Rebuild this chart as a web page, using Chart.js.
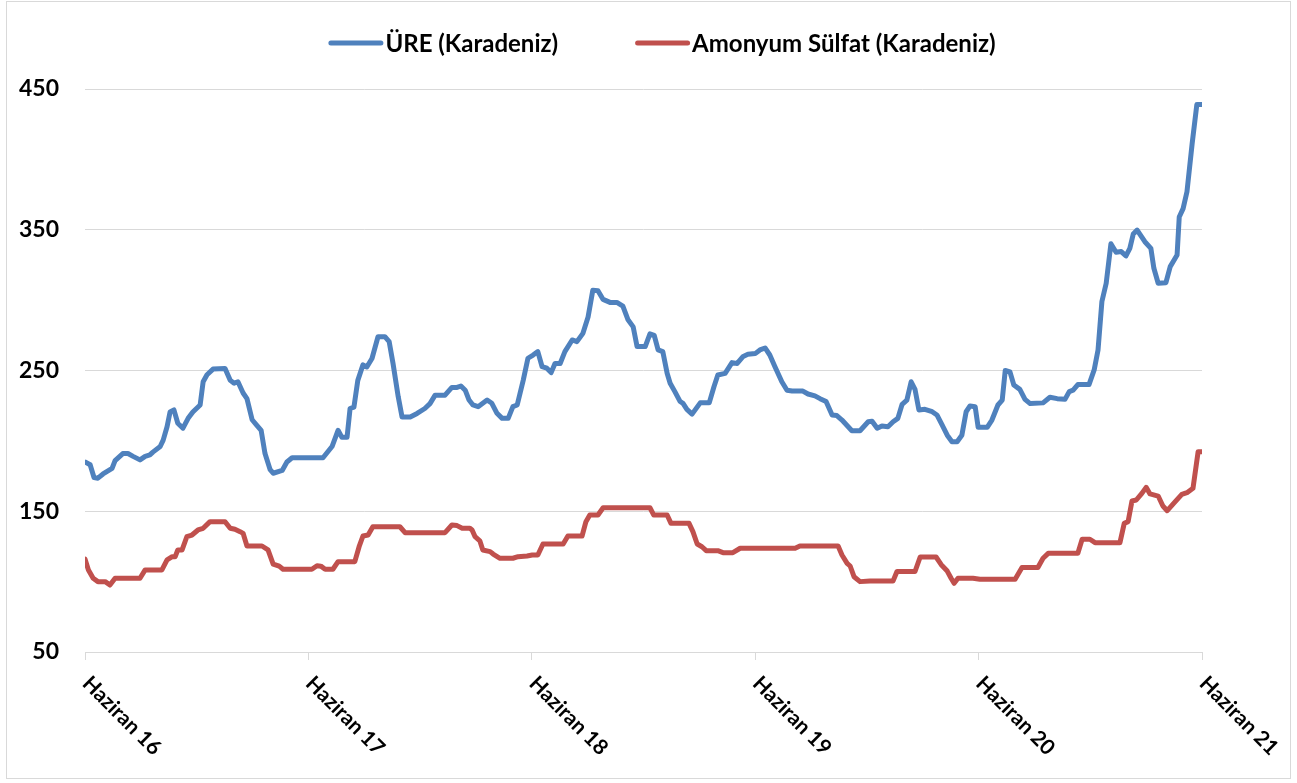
<!DOCTYPE html>
<html>
<head>
<meta charset="utf-8">
<script src="https://cdn.jsdelivr.net/npm/chart.js@4/dist/chart.umd.min.js"></script>
<style>
html,body{margin:0;padding:0;background:#fff;}
#wrap{width:1297px;height:783px;position:relative;}
</style>
</head>
<body>
<div id="wrap"><canvas id="c" width="1297" height="783"></canvas></div>
<script>
// ---- data (x = week index since June 2016, y = price) ----
const seriesNames = ['ÜRE (Karadeniz)', 'Amonyum Sülfat (Karadeniz)'];
const xTickLabels = ['Haziran 16', 'Haziran 17', 'Haziran 18', 'Haziran 19', 'Haziran 20', 'Haziran 21'];
const xTickWeeks = [0, 52, 104, 156, 208, 260];
const yTicks = [50, 150, 250, 350, 450];

const ureSeries = [
  [0,185],[1.2,183],[2.1,174],[3.0,173.5],[4.2,176.5],[6.3,180.5],[7.0,186],[8.8,191],[10.0,191],[11.2,189],
  [12.8,186.5],[14.0,189],[15.1,190],[15.8,192],[17.5,196],[18.2,200.5],[19.1,210],[19.8,220.5],[20.7,222],[21.6,212.5],
  [22.8,209],[24.0,216],[25.1,220.5],[26.8,225.5],[27.5,242],[28.4,247],[29.8,251],[32.6,251.5],[33.8,243],[34.7,241],
  [35.6,242],[36.8,234],[37.7,230],[38.9,215],[40.0,211],[41.0,207.5],[41.9,191],[43.1,179.5],[43.8,177],[45.9,179],
  [47.0,185],[48.2,188],[55.4,188],[57.5,196],[58.9,207.5],[59.8,202.5],[61.0,202.5],[61.7,223],[62.6,224],[63.5,243],
  [64.7,254],[65.6,252.5],[66.8,258.5],[68.2,274],[69.8,274],[70.8,270.5],[71.7,255],[72.9,231.5],[73.8,217],[75.7,217],
  [77.3,219.5],[79.1,223],[80.3,226.5],[81.5,232.5],[83.8,232.5],[85.4,238],[86.6,238],[87.5,239],[88.5,236],[89.4,229],
  [90.3,225.5],[91.5,224.3],[93.6,229],[94.7,226.7],[95.9,219.6],[97.1,216],[98.5,216],[99.6,224.3],[100.6,225.5],[102.0,243],
  [103.1,258.7],[104.3,261],[105.4,263.4],[106.4,252.7],[107.5,251.6],[108.5,248.5],[109.4,255],[110.6,255],[111.7,263.4],[113.4,271.7],
  [114.5,270.5],[115.9,276.4],[117.1,288],[118.2,307],[119.4,306.7],[120.6,300.5],[122.2,298.4],[123.8,298.4],[125.2,295.8],[126.4,286],
  [127.6,281],[128.5,267],[130.4,267],[131.5,276],[132.5,275],[133.4,264.6],[134.5,263.4],[135.5,248],[136.2,241],[137.3,235],
  [138.5,228],[139.2,226.7],[140.1,222.4],[141.3,219],[143.2,227],[145.3,227],[146.4,238.5],[147.3,246.8],[149.0,248],[150.6,255.6],
  [151.8,255],[153.2,260],[154.3,261.5],[156.0,262],[157.1,264.6],[158.3,266],[159.4,261],[160.6,252.7],[162.2,242],[163.4,236],
  [164.6,235.4],[167.1,235.4],[168.3,233.3],[169.9,232],[171.1,230],[172.5,228],[173.9,218.4],[175.0,218],[176.2,214.8],[178.5,207.2],
  [180.4,207.2],[182.3,213.6],[183.2,214],[184.4,209],[185.5,210.6],[186.9,210],[188.1,213.6],[189.2,216],[190.2,226],[191.3,229],
  [192.3,242],[193.2,236.6],[194.1,222],[195.5,222.4],[197.2,220.7],[198.3,218.4],[199.5,211.3],[200.7,204],[201.8,199.4],[203.0,199.4],
  [204.1,204],[205.1,220.7],[206.0,224.8],[207.2,224.3],[207.9,209.6],[210.0,209.6],[211.1,214.8],[212.5,225.5],[213.5,229],[214.2,250],
  [215.3,249],[216.2,239.7],[217.6,236.6],[218.8,229.5],[220.0,226.5],[223.0,227],[224.6,231],[226.3,230],[228.1,229.5],[229.1,235],
  [230.0,236],[231.1,240],[233.7,240],[234.9,250.4],[235.8,264.6],[236.7,299],[237.7,312],[238.8,340],[240.0,334],[241.2,334.5],
  [242.3,331.4],[243.2,336.8],[244.0,347],[244.9,349.8],[246.7,341.5],[248.1,336.8],[248.8,322.6],[249.8,312],[251.6,312.4],[252.6,323.8],
  [254.2,332],[254.7,359],[255.6,365],[256.5,377],[257.7,411],[258.8,439],[260.0,439]
];

const amonyumSeries = [
  [0,116],[0.8,108.3],[1.9,102.4],[3.0,100],[4.7,100],[5.8,97.6],[7.0,102.4],[12.8,102.4],[14.0,108.3],[17.9,108.3],
  [19.1,115.4],[20.3,117.7],[21.0,117.7],[21.6,122.5],[22.6,122.5],[23.7,131.9],[24.9,133.1],[26.3,136.7],[27.5,137.9],[29.1,142.6],
  [32.6,142.6],[33.8,137.9],[34.9,137.2],[36.1,135.5],[36.8,134.3],[37.7,125.3],[41.2,125.3],[42.6,122.5],[43.8,112.5],[45.2,111],
  [46.1,108.8],[52.8,108.8],[54.0,111.3],[54.9,111],[55.9,108.8],[57.7,108.8],[58.9,114.2],[62.8,114.2],[63.8,124.8],[64.7,132.4],
  [65.9,133.1],[67.0,139],[73.3,139],[74.5,134.8],[83.8,134.8],[85.4,140.2],[86.6,139.8],[87.8,137.9],[89.6,137.9],[90.1,136.7],
  [90.8,131.9],[91.9,129],[92.6,122.5],[94.3,121.3],[95.0,119.6],[96.6,116.6],[99.6,116.6],[100.8,117.7],[102.9,118.2],[104.1,118.9],
  [105.4,118.9],[106.6,126.7],[111.3,126.7],[112.4,132.4],[115.7,132.4],[116.6,142.6],[117.5,147.3],[119.4,147.3],[120.6,152.5],[131.5,152.5],
  [132.4,147.3],[135.5,147.3],[136.4,141.4],[140.6,141.4],[141.5,135.5],[142.5,126.7],[143.6,124.8],[144.6,122],[147.3,122],[148.5,120.6],
  [150.8,120.6],[152.5,123.7],[165.3,123.7],[166.4,125.3],[175.3,125.3],[176.2,118.9],[177.4,113],[178.1,111.1],[179.0,103.5],[180.4,100],
  [182.7,100.5],[188.1,100.5],[189.0,107.2],[193.2,107.2],[194.4,117.5],[198.1,117.5],[199.3,112],[200.7,107.5],[201.6,102.4],[202.3,98.8],
  [203.2,102.4],[206.7,102.4],[208.3,101.7],[216.5,101.7],[218.1,110],[221.8,110],[223.0,116.6],[224.2,120.1],[231.1,120.1],[232.1,130.1],
  [233.9,130.1],[235.1,127.7],[240.9,127.7],[241.9,141.4],[242.8,142.6],[243.7,157.3],[244.7,158],[246.0,162.7],[247.0,167],[247.9,162.3],
  [249.8,160.8],[250.9,153.7],[251.9,150.4],[253.3,155.2],[255.3,162],[256.5,163.2],[257.9,166.3],[259.1,192.3],[260.0,192.3]
];

// ---- styles ----
const COLORS = ['#4F81BD', '#C0504D'];
const FONT = 'Lato, "Open Sans", "DejaVu Sans", sans-serif';
const GRID = '#d9d9d9';

const toPoints = s => s.map(p => ({x: p[0], y: p[1]}));

const decor = {
  id: 'decor',
  beforeDraw(chart) {
    const ctx = chart.ctx;
    ctx.save();
    ctx.fillStyle = '#fff';
    ctx.fillRect(0, 0, chart.width, chart.height);
    ctx.strokeStyle = GRID;
    ctx.lineWidth = 1;
    ctx.strokeRect(6.5, 1.5, 1284, 777);
    ctx.restore();
  },
  afterDraw(chart) {
    const ctx = chart.ctx;
    const xs = chart.scales.x;
    const bottom = chart.chartArea.bottom;
    ctx.save();
    // rotated x labels
    ctx.font = 'bold 21px ' + FONT;
    ctx.fillStyle = '#000';
    ctx.textAlign = 'left';
    ctx.textBaseline = 'middle';
    xTickLabels.forEach((t, i) => {
      const px = xs.getPixelForValue(xTickWeeks[i]);
      ctx.save();
      ctx.translate(px + 1, bottom + 28);
      ctx.rotate(Math.PI / 4);
      ctx.fillText(t, 0, 0);
      ctx.restore();
    });
    // legend
    ctx.font = 'bold 24px ' + FONT;
    const lineLen = 55, gapText = 2, gapItem = 77;
    const widths = seriesNames.map(n => ctx.measureText(n).width);
    const total = widths.reduce((a, w) => a + lineLen + gapText + w, 0) + gapItem;
    let x = 662 - total / 2;
    const y = 43;
    seriesNames.forEach((n, i) => {
      ctx.strokeStyle = COLORS[i];
      ctx.lineWidth = 5;
      ctx.lineCap = 'round';
      ctx.beginPath();
      ctx.moveTo(x + 2.5, y);
      ctx.lineTo(x + lineLen - 2.5, y);
      ctx.stroke();
      ctx.fillStyle = '#000';
      ctx.textBaseline = 'middle';
      ctx.fillText(n, x + lineLen + gapText, y + 1);
      x += lineLen + gapText + widths[i] + gapItem;
    });
    ctx.restore();
  }
};

new Chart(document.getElementById('c'), {
  type: 'line',
  data: {
    datasets: [
      {label: seriesNames[0], data: toPoints(ureSeries), borderColor: COLORS[0], backgroundColor: COLORS[0],
       borderWidth: 5, pointRadius: 0, tension: 0, borderJoinStyle: 'round', borderCapStyle: 'round'},
      {label: seriesNames[1], data: toPoints(amonyumSeries), borderColor: COLORS[1], backgroundColor: COLORS[1],
       borderWidth: 5, pointRadius: 0, tension: 0, borderJoinStyle: 'round', borderCapStyle: 'round'}
    ]
  },
  options: {
    responsive: false,
    animation: false,
    devicePixelRatio: 1,
    layout: {padding: {left: 6, right: 95, top: 89, bottom: 0}},
    plugins: {legend: {display: false}, tooltip: {enabled: false}},
    scales: {
      x: {
        type: 'linear', min: 0, max: 260,
        afterBuildTicks: s => { s.ticks = xTickWeeks.map(v => ({value: v})); },
        afterFit: s => { s.height = 131; },
        ticks: {display: false},
        grid: {drawOnChartArea: false, drawTicks: true, tickLength: 8, color: GRID, lineWidth: 1},
        border: {display: true, color: GRID, width: 1}
      },
      y: {
        min: 50, max: 450,
        afterBuildTicks: s => { s.ticks = yTicks.map(v => ({value: v})); },
        afterFit: s => { s.width = 79; },
        ticks: {padding: 26, color: '#000', font: {family: FONT, size: 23, weight: 'bold'}},
        grid: {color: GRID, lineWidth: 1, drawTicks: false},
        border: {display: false}
      }
    }
  },
  plugins: [decor]
});
</script>
</body>
</html>
